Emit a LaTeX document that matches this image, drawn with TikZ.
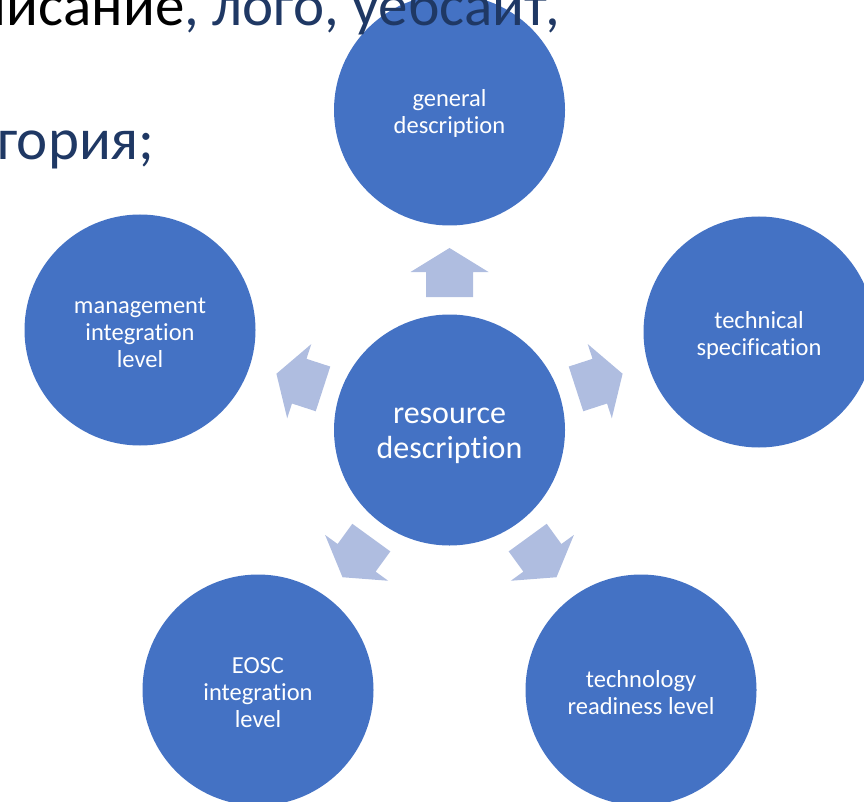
\documentclass[tikz,border=0pt]{standalone}
\usepackage{fontspec}
\setmainfont{Carlito}[Ligatures={NoCommon}]
\definecolor{circblue}{HTML}{4472C4}
\definecolor{arrowblue}{RGB}{175,189,224}
\definecolor{navytext}{HTML}{1F3864}
\begin{document}
\begin{tikzpicture}[x=1pt,y=-1pt,
  bubble/.style={circle, fill=circblue, minimum size=231pt, inner sep=0pt},
  lbl/.style={text=white, align=center, inner sep=0pt, font=\fontsize{24.5}{27}\selectfont},
  hublbl/.style={lbl, font=\fontsize{32}{35}\selectfont},
  chev/.style={fill=arrowblue},
  bgtext/.style={inner sep=0pt, font=\fontsize{59}{59}\selectfont}]
\useasboundingbox (0,0) rectangle (864,802);
\clip (0,0) rectangle (864,802);
\node[bubble] (c) at (449.5,430) {};
\node[bubble] (gd) at (449.5,110) {};
\node[bubble] (ts) at (759,332) {};
\node[bubble] (mi) at (140,330) {};
\node[bubble] (ei) at (258,690) {};
\node[bubble] (tr) at (641,690) {};
\node[hublbl] (c-t) at ([yshift=-6pt]c.center) {resource\\description};
\node[lbl] (gd-t) at ([yshift=-3pt]gd.center) {general\\description};
\node[lbl] (ts-t) at ([yshift=-3pt]ts.center) {technical\\specification};
\node[lbl] (mi-t) at ([yshift=-3pt]mi.center) {management\\integration\\level};
\node[lbl] (ei-t) at ([yshift=-3pt]ei.center) {EOSC\\integration\\level};
\node[lbl] (tr-t) at ([yshift=-3pt]tr.center) {technology\\readiness level};
\foreach \a in {0,-72,72,144,-144}{
  \path[chev, shift={(c.center)}, rotate=\a]
    (0,-182) -- (39,-158) -- (23.5,-158) -- (23.5,-133) -- (-23.5,-133) -- (-23.5,-158) -- (-39,-158) -- cycle;
}
\node[bgtext, anchor=base east] (l1) at (560,26) {писание\textcolor{navytext}{, лого, уебсайт,}};
\node[bgtext, anchor=base west, text=navytext] (l2) at (-3,160) {гория;};
\end{tikzpicture}
\end{document}
